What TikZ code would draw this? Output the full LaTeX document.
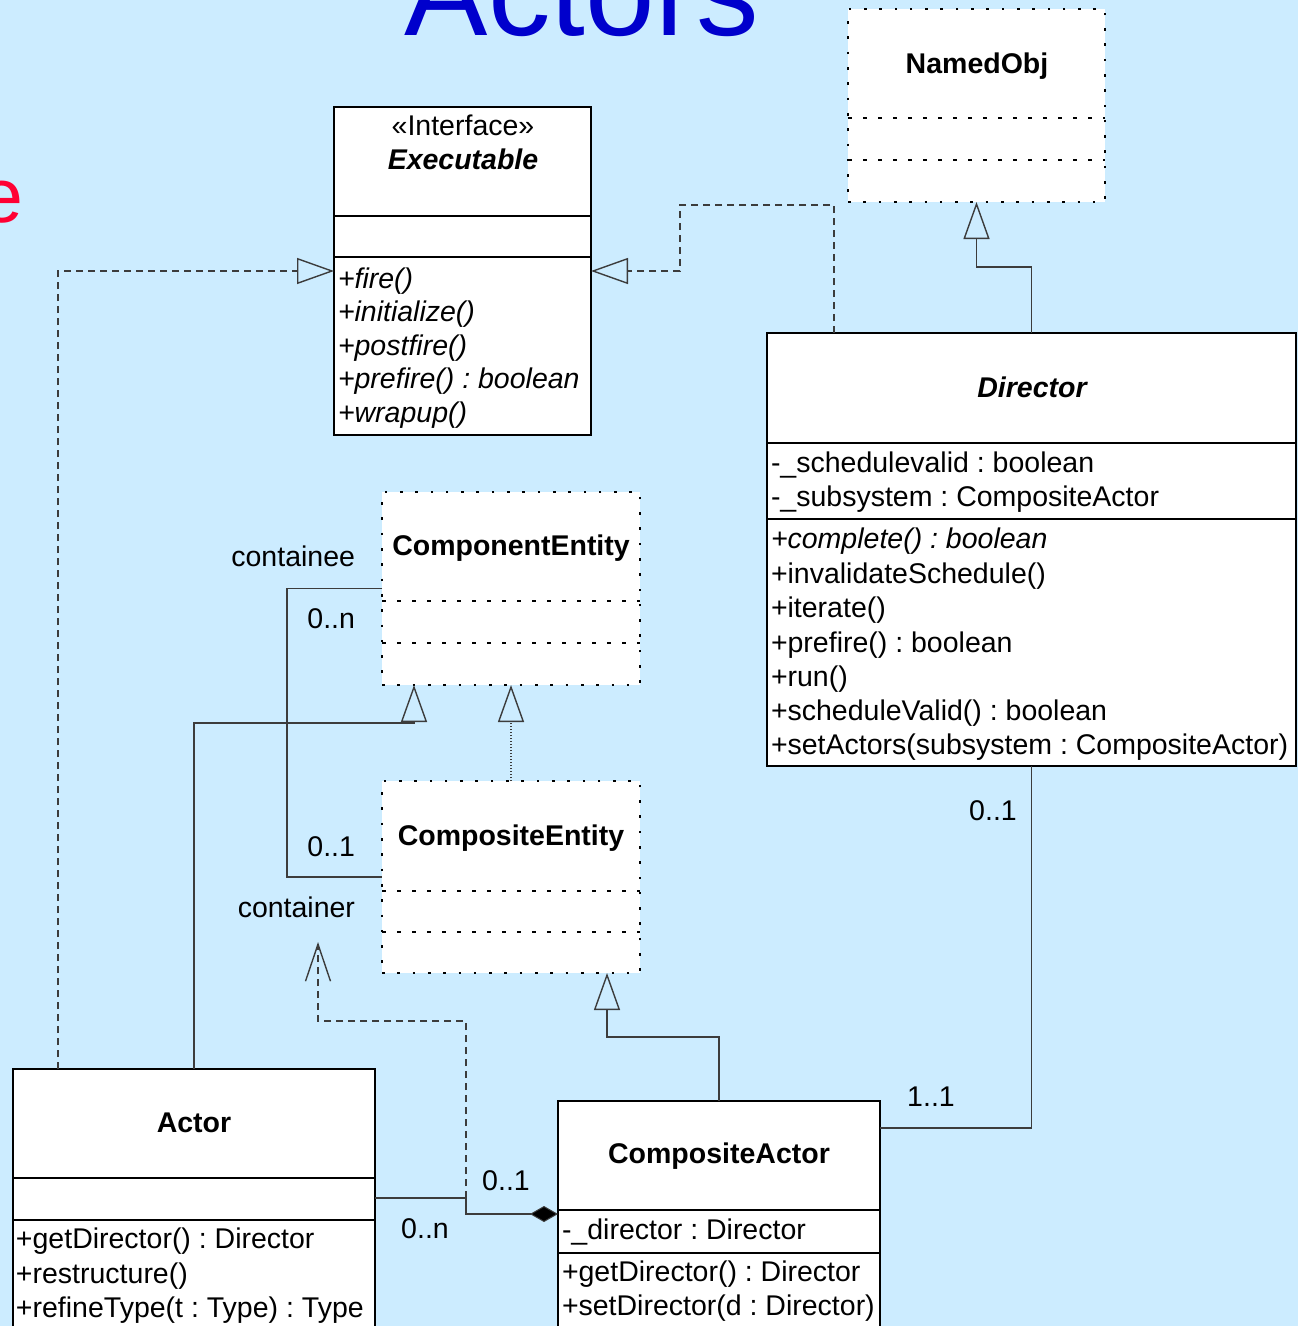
\documentclass[tikz,border=0pt]{standalone}
\usepackage{fontspec}
\setmainfont{Liberation Sans}
\usetikzlibrary{arrows.meta,calc}
\definecolor{slidebg}{RGB}{204,236,255}
\definecolor{titleblue}{RGB}{0,0,204}
\definecolor{accentred}{RGB}{255,0,51}
\definecolor{linkgray}{RGB}{60,60,60}
\newcommand\umlsize{\fontsize{28.5}{34}\selectfont}
\newcommand\classrule[4]{\draw[#1] (#2,#4) -- (#3,#4);}
\frenchspacing

\begin{document}
\begin{tikzpicture}[x=1pt,y=-1pt,
  every node/.style={inner sep=0pt, outer sep=0pt},
  txt/.style={font=\umlsize, anchor=base west},
  itxt/.style={font=\umlsize\itshape, anchor=base west},
  ctxt/.style={font=\umlsize, anchor=base},
  ttl/.style={font=\umlsize\bfseries, anchor=base},
  ittl/.style={font=\umlsize\bfseries\itshape, anchor=base},
  lbl/.style={font=\umlsize, anchor=base east},
  cls/.style={draw=black, line width=2.4pt, fill=white, rectangle, anchor=north west},
  pkgcls/.style={draw=black, line width=2.6pt, dash pattern=on 2.6pt off 12.7pt, fill=white, rectangle, anchor=north west},
  sep/.style={line width=2.4pt},
  dsep/.style={line width=2.2pt, dash pattern=on 4pt off 11pt},
  link/.style={draw=linkgray, line width=1.4pt},
  realize/.style={link, dash pattern=on 7pt off 5pt, -{Triangle[open,length=37pt,width=26pt,line width=1.4pt]}},
  generalize/.style={link, -{Triangle[open,length=37pt,width=26pt,line width=1.4pt]}},
  subdotted/.style={link, line width=1.2pt, dash pattern=on 1.5pt off 1.5pt, -{Triangle[open,length=37pt,width=26pt,line width=1.4pt]}},
  depend/.style={link, dash pattern=on 7pt off 5pt, -{Straight Barb[length=37pt,width=25pt,line width=1.4pt]}},
  aggregate/.style={link, -{Diamond[length=28pt,width=16pt,fill=black,line width=1pt]}}
]
\useasboundingbox (0,0) rectangle (1298,1326);
\clip (0,0) rectangle (1298,1326);
\fill[slidebg] (0,0) rectangle (1298,1326);

% slide title and text fragment
\node[font=\fontsize{125}{125}\selectfont, text=titleblue, anchor=base] (title) at (582,35) {Actors};
\node[font=\fontsize{77}{77}\selectfont, text=accentred, anchor=base east] (frag) at (23,222) {e};

% ---------- classes ----------
% NamedObj (package-external class, dotted)
\node[pkgcls, minimum width=257pt, minimum height=193pt] (named) at (848,9) {};
\classrule{dsep}{848}{1105}{118}
\classrule{dsep}{848}{1105}{160}
\node[ttl] (namedT) at (977,73) {NamedObj};

% Executable interface
\node[cls, minimum width=257pt, minimum height=328pt] (exec) at (334,107) {};
\classrule{sep}{334}{591}{216}
\classrule{sep}{334}{591}{257}
\node[ctxt] (execS) at (463,135) {«Interface»};
\node[ittl] (execT) at (463,169) {Executable};
\node[itxt] (e1) at (338,288) {+fire()};
\node[itxt] (e2) at (338,321.5) {+initialize()};
\node[itxt] (e3) at (338,355) {+postfire()};
\node[itxt] (e4) at (338,388.5) {+prefire() : boolean};
\node[itxt] (e5) at (338,422) {+wrapup()};

% Director
\node[cls, minimum width=529pt, minimum height=433pt] (dir) at (767,333) {};
\classrule{sep}{767}{1296}{443}
\classrule{sep}{767}{1296}{519}
\node[ittl] (dirT) at (1032,397) {Director};
\node[txt] (d1) at (771,472) {-\_schedulevalid : boolean};
\node[txt] (d2) at (771,506) {-\_subsystem : CompositeActor};
\node[itxt] (d3) at (771,548) {+complete() : boolean};
\node[txt] (d4) at (771,583) {+invalidateSchedule()};
\node[txt] (d5) at (771,617) {+iterate()};
\node[txt] (d6) at (771,652) {+prefire() : boolean};
\node[txt] (d7) at (771,686) {+run()};
\node[txt] (d8) at (771,720) {+scheduleValid() : boolean};
\node[txt] (d9) at (771,754) {+setActors(subsystem : CompositeActor)};

% ComponentEntity
\node[pkgcls, minimum width=258pt, minimum height=193pt] (compent) at (382,492) {};
\classrule{dsep}{382}{640}{601}
\classrule{dsep}{382}{640}{643}
\node[ttl] (compentT) at (511,555) {ComponentEntity};

% CompositeEntity
\node[pkgcls, minimum width=258pt, minimum height=192pt] (compe) at (382,781) {};
\classrule{dsep}{382}{640}{891}
\classrule{dsep}{382}{640}{932}
\node[ttl] (compeT) at (511,845) {CompositeEntity};

% Actor
\node[cls, minimum width=362pt, minimum height=280pt] (actor) at (13,1069) {};
\classrule{sep}{13}{375}{1178}
\classrule{sep}{13}{375}{1220}
\node[ttl] (actorT) at (194,1132) {Actor};
\node[txt] (a1) at (16,1248) {+getDirector() : Director};
\node[txt] (a2) at (16,1283) {+restructure()};
\node[txt] (a3) at (16,1317) {+refineType(t : Type) : Type};

% CompositeActor
\node[cls, minimum width=322pt, minimum height=250pt] (compa) at (558,1101) {};
\classrule{sep}{558}{880}{1210}
\classrule{sep}{558}{880}{1253}
\node[ttl] (compaT) at (719,1163) {CompositeActor};
\node[txt] (c1) at (562,1239) {-\_director : Director};
\node[txt] (c2) at (562,1281) {+getDirector() : Director};
\node[txt] (c3) at (562,1315) {+setDirector(d : Director)};

% ---------- relationships ----------
% realizations of Executable
\draw[realize] ([xshift=45pt]actor.north west) |- (exec.west);
\coordinate (dirBend) at (680,205);
\draw[realize] ([xshift=67pt]dir.north west) |- (dirBend) |- (exec.east);

% generalizations
\draw[generalize] (dir.north) -- ++(0,-66) -| (named.south);
\draw[generalize] (actor.north) -- ++(0,-346) -| ([xshift=32pt]compent.south west);
\draw[subdotted] (compe.north) -- (compent.south);
\draw[generalize] (compa.north) -- ++(0,-64) -| ([xshift=-33pt]compe.south east);

% containment association
\draw[link] (compent.west) -- ++(-95,0) |- (compe.west);
\node[lbl] (lContainee) at (355,566) {containee};
\node[lbl] (lCnt0n) at (355,628) {0..n};
\node[lbl] (lCnt01) at (355,856) {0..1};
\node[lbl] (lContainer) at (355,917) {container};

% composition between Actor and CompositeActor
\coordinate (aggBend) at (466,1198);
\draw[aggregate] ($(actor.north east)+(0,129)$) -- (aggBend) |- ($(compa.north west)+(0,113)$);
\node[ctxt] (lAgg01) at (506,1190) {0..1};
\node[ctxt] (lAgg0n) at (425,1238) {0..n};

% dependency towards the container role
\coordinate (depTip) at (318,942);
\draw[depend] (aggBend) -- ++(0,-177) -| (depTip);

% Director -- CompositeActor association
\draw[link] (dir.south) |- ($(compa.north east)+(0,27)$);
\node[ctxt] (lDir01) at (993,820) {0..1};
\node[ctxt] (lDir11) at (931,1106) {1..1};
\end{tikzpicture}
\end{document}
